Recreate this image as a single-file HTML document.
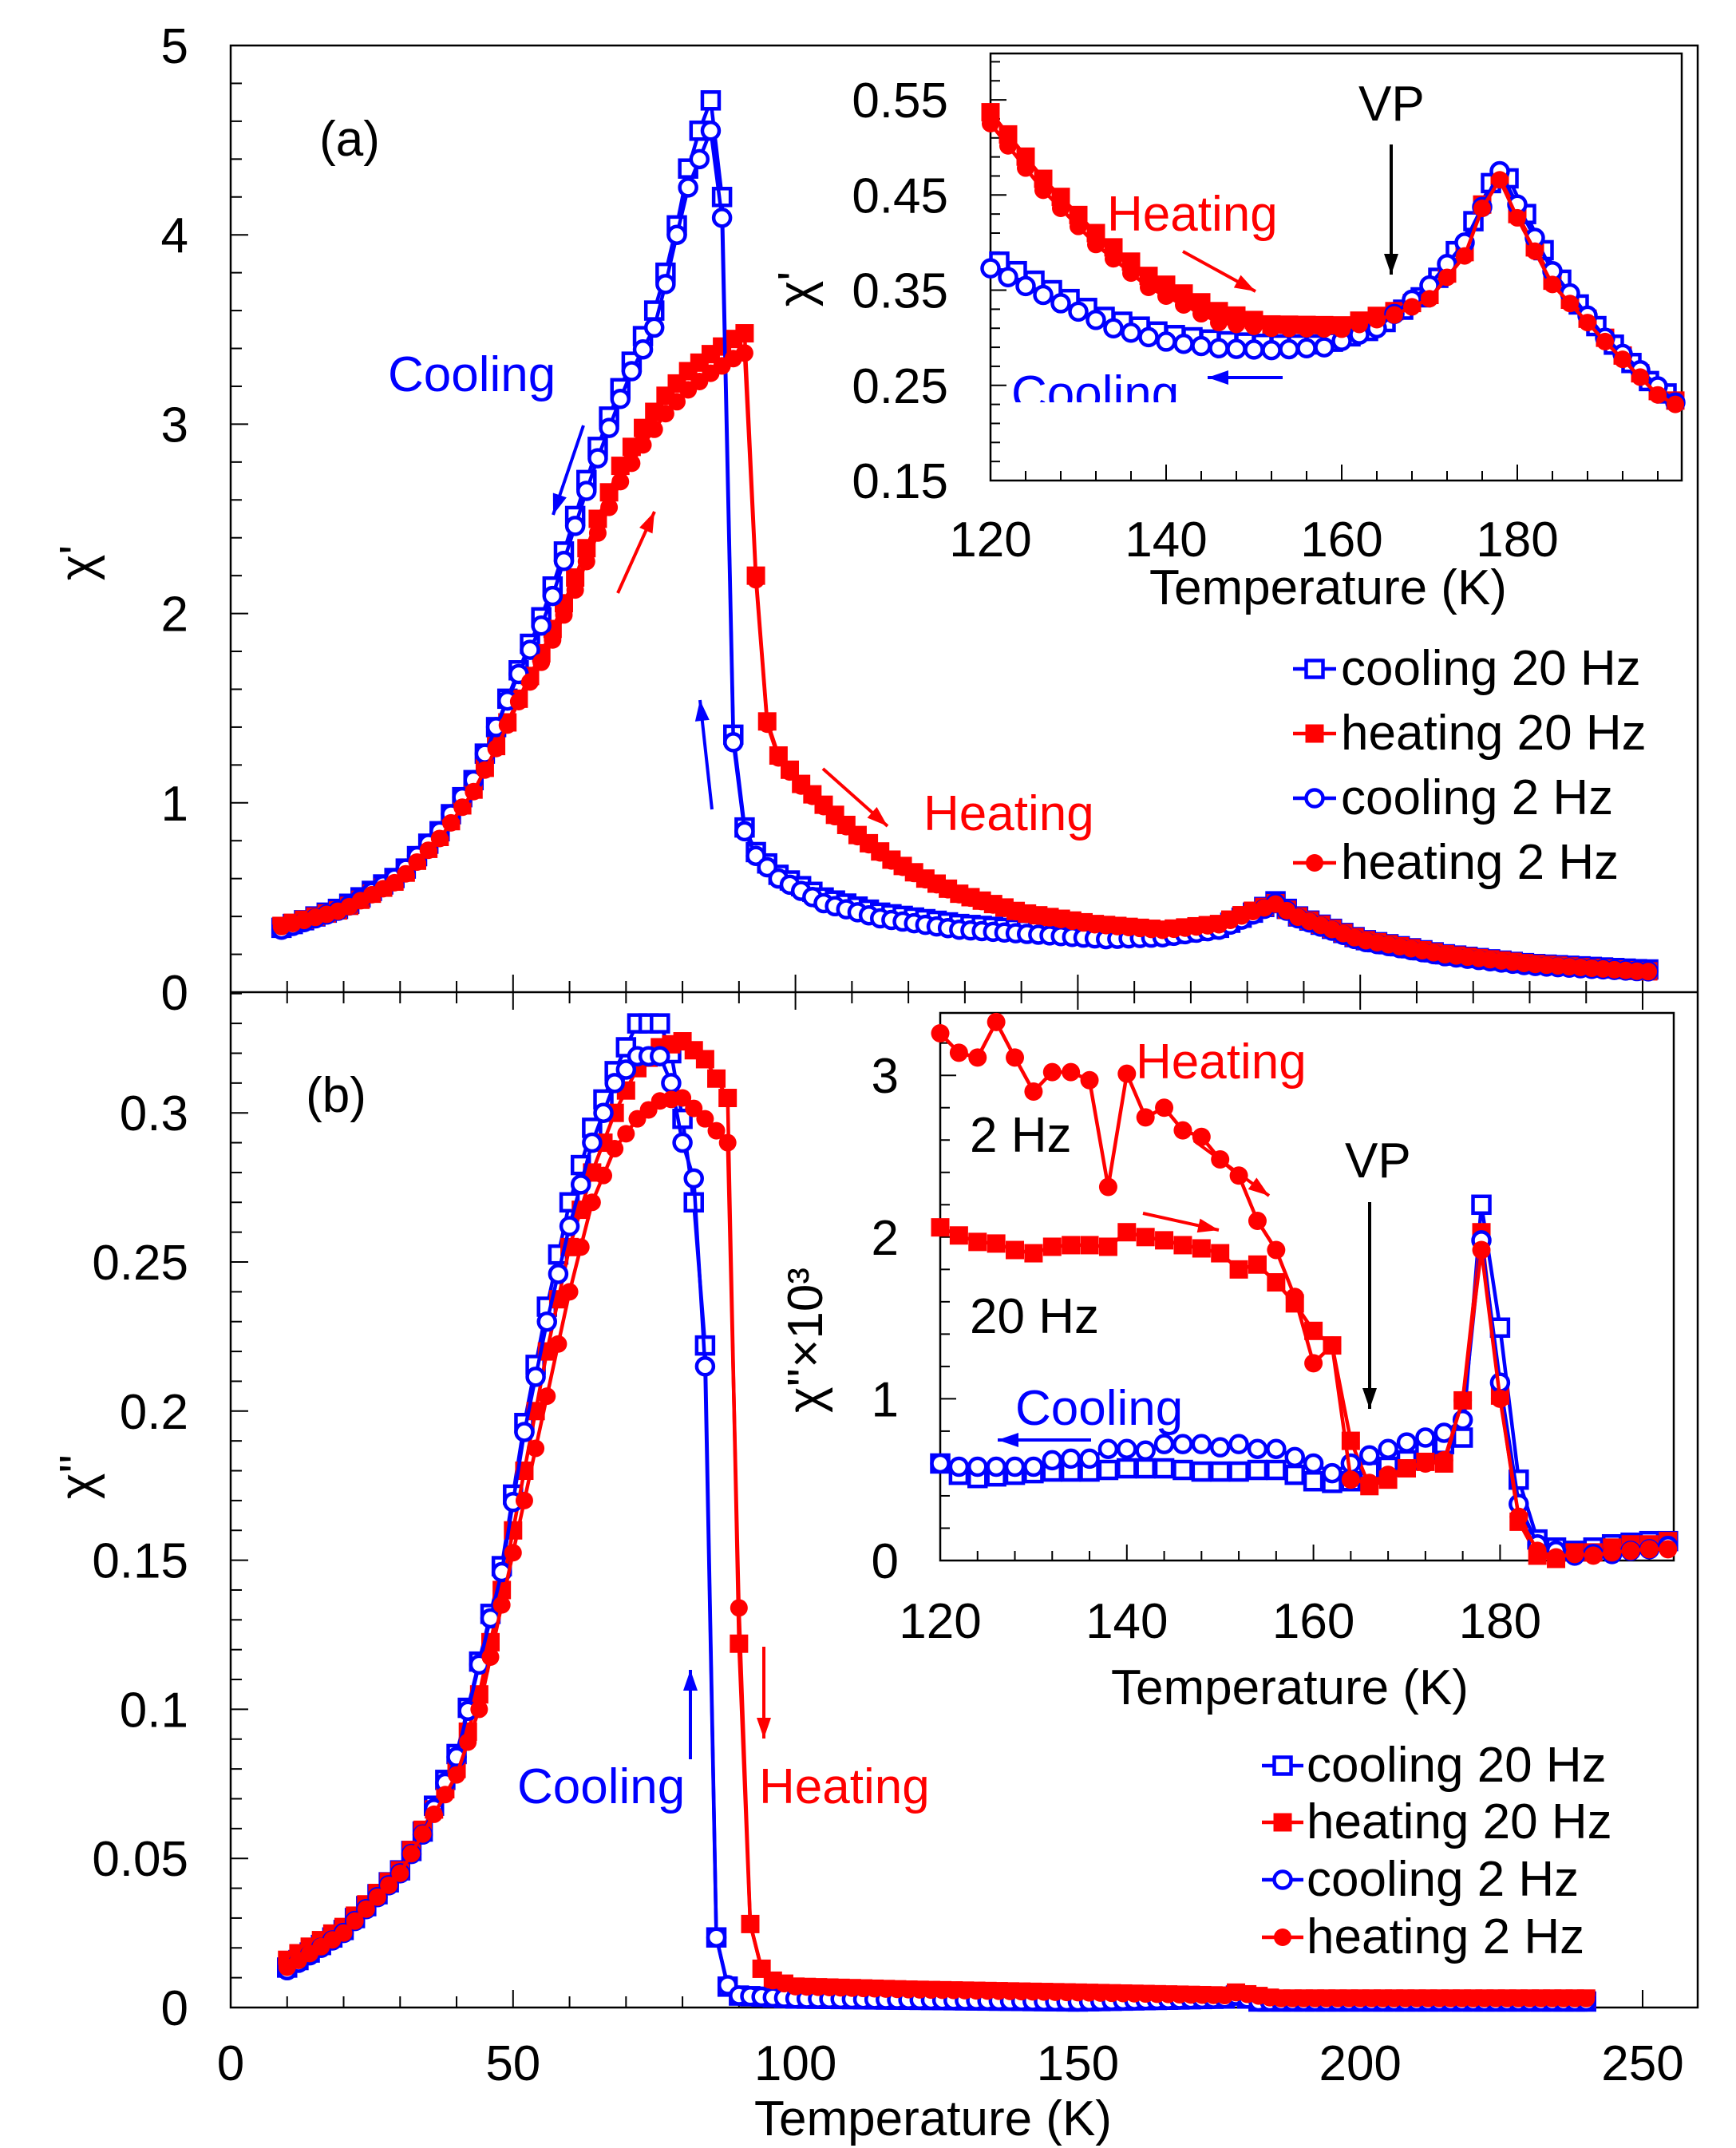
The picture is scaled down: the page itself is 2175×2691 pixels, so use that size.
<!DOCTYPE html>
<html><head><meta charset="utf-8"><style>html,body{margin:0;padding:0;background:#fff}svg{display:block}text{font-family:"Liberation Sans",sans-serif}</style></head>
<body>
<svg id="s" width="2175" height="2691" viewBox="0 0 2175 2691" xmlns="http://www.w3.org/2000/svg">
<rect width="2175" height="2691" fill="#fff"/>
<g id="g"></g>
</svg>
<script>
const NS="http://www.w3.org/2000/svg";const G=document.getElementById('g');
function el(t,a,txt){const e=document.createElementNS(NS,t);for(const k in a)e.setAttribute(k,a[k]);if(txt!==undefined)e.textContent=txt;G.appendChild(e);return e;}
function interp(k,T){if(T<=k[0][0])return k[0][1];for(let i=1;i<k.length;i++){if(T<=k[i][0]){const a=k[i-1],b=k[i];return a[1]+(b[1]-a[1])*(T-a[0])/(b[0]-a[0]);}}return k[k.length-1][1];}
const B="#0000ff",R="#ff0000";
function series(pts,col,mk,sz,sw){let d="";pts.forEach((p,i)=>{d+=(i?"L":"M")+p[0].toFixed(1)+" "+p[1].toFixed(1);});
 el('path',{d:d,fill:'none',stroke:col,'stroke-width':4.5,'stroke-linejoin':'round'});
 pts.forEach(p=>{const h=sz/2;
  if(mk=='so')el('rect',{x:p[0]-h+2,y:p[1]-h+2,width:sz-4,height:sz-4,fill:'#fff',stroke:col,'stroke-width':sw});
  else if(mk=='sf')el('rect',{x:p[0]-h,y:p[1]-h,width:sz,height:sz,fill:col});
  else if(mk=='co')el('circle',{cx:p[0],cy:p[1],r:h-2,fill:'#fff',stroke:col,'stroke-width':sw});
  else el('circle',{cx:p[0],cy:p[1],r:h,fill:col});});}
function txt(x,y,s,o){const a=Object.assign({x:x,y:y,'font-size':62,fill:'#000'},o||{});return el('text',a,s);}
function arrow(x1,y1,x2,y2,col,w){el('line',{x1:x1,y1:y1,x2:x2,y2:y2,stroke:col,'stroke-width':w||4});
 const ang=Math.atan2(y2-y1,x2-x1),L=26,W=9;const bx=x2-L*Math.cos(ang),by=y2-L*Math.sin(ang);
 const px=-Math.sin(ang)*W,py=Math.cos(ang)*W;el('polygon',{points:`${x2},${y2} ${bx+px},${by+py} ${bx-px},${by-py}`,fill:col});}
const MS=25,SW=4.5;
// ===== main axes =====
const X0=289,XK=(2058-289)/250;const mx=T=>X0+T*XK;
const yA=v=>1243-v*237.2, yB=v=>2515-v*3736;
el('rect',{x:289,y:57,width:1838,height:2458,fill:'none',stroke:'#000','stroke-width':2.5});
el('line',{x1:289,y1:1243,x2:2127,y2:1243,stroke:'#000','stroke-width':2.5});
for(let T=0;T<=250;T+=10){const L=(T%50==0)?22:14;
 el('line',{x1:mx(T),y1:1243,x2:mx(T),y2:1243-L,stroke:'#000','stroke-width':2});
 el('line',{x1:mx(T),y1:1243,x2:mx(T),y2:1243+L,stroke:'#000','stroke-width':2});
 el('line',{x1:mx(T),y1:2515,x2:mx(T),y2:2515-L,stroke:'#000','stroke-width':2});}
for(let i=0;i<=25;i++){const v=i*0.2;const L=(i%5==0)?22:14;el('line',{x1:289,y1:yA(v),x2:289+L,y2:yA(v),stroke:'#000','stroke-width':2});}
for(let i=0;i<=34;i++){const v=i*0.01;const L=(i%5==0)?22:14;el('line',{x1:289,y1:yB(v),x2:289+L,y2:yB(v),stroke:'#000','stroke-width':2});}
for(let i=0;i<=5;i++)txt(236,yA(i)+22,String(i),{'text-anchor':'end'});
['0','0.05','0.1','0.15','0.2','0.25','0.3'].forEach((s,i)=>txt(236,yB(i*0.05)+22,s,{'text-anchor':'end'}));
for(let T=0;T<=250;T+=50)txt(mx(T),2606,String(T),{'text-anchor':'middle'});
txt(1169,2675,'Temperature (K)',{'text-anchor':'middle'});
txt(0,0,"χ'",{transform:'translate(118,705) rotate(-90)','text-anchor':'middle'});
txt(0,0,"χ''",{transform:'translate(118,1850) rotate(-90)','text-anchor':'middle'});
txt(438,195,'(a)',{'text-anchor':'middle'});txt(421,1393,'(b)',{'text-anchor':'middle'});

const aBS=[[9,0.34],[20,0.45],[30,0.62],[37,0.85],[43,1.12],[47,1.4],[51,1.7],[56,2.05],[60,2.42],[64,2.8],[68,3.12],[71,3.33],[75,3.6],[77,3.8],[79,4.05],[81,4.35],[83,4.55],[85,4.71],[87,4.2],[89,1.36],[91,0.87],[93,0.74],[97,0.62],[105,0.5],[115,0.42],[129,0.36],[145,0.32],[155,0.3],[165,0.3],[175,0.34],[181,0.42],[185,0.48],[189,0.4],[200,0.28],[215,0.2],[230,0.15],[250,0.12]];
const aBC=[[9,0.33],[20,0.44],[30,0.62],[37,0.85],[43,1.12],[47,1.4],[51,1.68],[56,2.0],[60,2.37],[64,2.74],[68,3.06],[71,3.28],[75,3.51],[77,3.74],[79,4.0],[81,4.25],[83,4.4],[85,4.55],[87,4.09],[89,1.32],[91,0.85],[93,0.72],[97,0.6],[105,0.47],[115,0.39],[129,0.33],[145,0.3],[155,0.28],[165,0.29],[175,0.33],[181,0.41],[185,0.47],[189,0.39],[200,0.27],[215,0.19],[230,0.14],[250,0.11]];
const aRS=[[9,0.35],[20,0.44],[30,0.6],[37,0.82],[43,1.07],[47,1.3],[51,1.55],[56,1.85],[61,2.19],[65,2.5],[69,2.78],[73,2.98],[77,3.15],[81,3.28],[85,3.37],[89,3.45],[91,3.48],[93,2.2],[95,1.43],[97,1.25],[101,1.1],[105,0.99],[111,0.83],[117,0.7],[123,0.6],[129,0.52],[140,0.42],[153,0.36],[165,0.33],[175,0.36],[181,0.43],[185,0.47],[189,0.4],[200,0.28],[215,0.2],[230,0.15],[250,0.11]];
const aRC=aRS.map(p=>[p[0],(p[0]>55&&p[0]<92)?p[1]*0.97:p[1]*0.99]);
function gen(k,t0,t1,st,fx,fy){const o=[];for(let T=t0;T<=t1+1e-6;T+=st)o.push([fx(T),fy(interp(k,T))]);return o;}
series(gen(aBS,9,251,2,mx,yA),B,'so',MS,SW);
series(gen(aRS,9,251,2,mx,yA),R,'sf',MS-2);
series(gen(aBC,9,251,2,mx,yA),B,'co',MS,SW);
series(gen(aRC,9,251,2,mx,yA),R,'cf',MS-3);

const bBS=[[10,0.0134],[20,0.026],[30,0.046],[34,0.059],[40,0.085],[44,0.116],[48,0.148],[52,0.196],[56,0.235],[60,0.27],[64,0.295],[68,0.314],[72,0.33],[76,0.33],[78,0.32],[80,0.298],[82,0.27],[84,0.222],[86,0.0235],[88,0.007],[90,0.004],[100,0.003],[150,0.002],[176,0.003],[178,0.004],[182,0.002],[240,0.002]];
const bBC=[[10,0.0125],[20,0.025],[30,0.045],[34,0.058],[40,0.084],[44,0.115],[48,0.146],[52,0.193],[56,0.23],[60,0.262],[64,0.29],[68,0.31],[72,0.319],[76,0.319],[78,0.31],[80,0.29],[82,0.278],[84,0.215],[86,0.0235],[88,0.0075],[90,0.004],[100,0.003],[150,0.002],[176,0.003],[178,0.004],[182,0.002],[240,0.002]];
const bRS=[[10,0.016],[20,0.027],[30,0.046],[40,0.08],[44,0.105],[48,0.14],[52,0.18],[56,0.22],[60,0.255],[64,0.28],[68,0.3],[72,0.315],[76,0.322],[80,0.324],[84,0.318],[88,0.305],[90,0.122],[92,0.028],[94,0.013],[96,0.009],[100,0.007],[120,0.006],[150,0.005],[176,0.004],[178,0.005],[185,0.003],[240,0.003]];
const bRC=[[10,0.0135],[20,0.025],[30,0.045],[40,0.078],[44,0.1],[48,0.135],[52,0.17],[56,0.205],[60,0.24],[64,0.27],[68,0.288],[72,0.298],[76,0.304],[80,0.305],[84,0.298],[88,0.29],[90,0.134],[92,0.028],[94,0.013],[96,0.009],[100,0.007],[120,0.006],[150,0.005],[176,0.004],[178,0.005],[185,0.003],[240,0.003]];
series(gen(bBS,10,240,2,mx,yB),B,'so',MS,SW);
series(gen(bRS,10,240,2,mx,yB),R,'sf',MS-2);
series(gen(bBC,10,240,2,mx,yB),B,'co',MS,SW);
series(gen(bRC,10,240,2,mx,yB),R,'cf',MS-3);

txt(486,490,'Cooling',{fill:B});
arrow(731,533,693,645,B);arrow(774,743,820,641,R);arrow(892,1014,877,877,B);arrow(1031,963,1112,1035,R);
txt(1157,1040,'Heating',{fill:R});
txt(648,2259,'Cooling',{fill:B});txt(951,2259,'Heating',{fill:R});
arrow(865,2204,865,2092,B);arrow(957,2063,957,2178,R);

function legend(x1,x2,tx,ys){const it=[['cooling 20 Hz',B,'so'],['heating 20 Hz',R,'sf'],['cooling 2 Hz',B,'co'],['heating 2 Hz',R,'cf']];
 it.forEach((q,i)=>{const y=ys[i],cy=y-20;el('line',{x1:x1,y1:cy,x2:x2,y2:cy,stroke:q[1],'stroke-width':4.5});
  const cx=(x1+x2)/2;series([[cx,cy]],q[1],q[2],q[2]=='cf'?MS-3:(q[2]=='sf'?MS-2:MS),SW);txt(tx,y,q[0]);});}
legend(1620,1674,1680,[858,939,1020,1101]);
legend(1581,1633,1637,[2232,2303,2375,2447]);

{const L=1241,Rr=2107,T0=67,Bm=602;const ix=T=>L+(T-120)*11.0,iy=v=>Bm-(v-0.15)*1192.3;
 el('rect',{x:L,y:T0,width:Rr-L,height:Bm-T0,fill:'#fff',stroke:'#000','stroke-width':2.5});
 for(let T=120;T<=198;T+=4){const l=(T%20==0)?20:12;el('line',{x1:ix(T),y1:Bm,x2:ix(T),y2:Bm-l,stroke:'#000','stroke-width':2});}
 for(let i=0;i<=22;i++){const v=0.15+i*0.02;const l=(i%5==0)?20:12;el('line',{x1:L,y1:iy(v),x2:L+l,y2:iy(v),stroke:'#000','stroke-width':2});}
 ['0.15','0.25','0.35','0.45','0.55'].forEach((s,i)=>txt(1188,iy(0.15+i*0.1)+22,s,{'text-anchor':'end'}));
 [120,140,160,180].forEach(T=>txt(ix(T),697,String(T),{'text-anchor':'middle'}));
 txt(1664,757,'Temperature (K)',{'text-anchor':'middle'});
 txt(0,0,"χ'",{transform:'translate(1018,362) rotate(-90)','text-anchor':'middle'});
 const iRS=[[120,0.537],[126,0.467],[132,0.41],[138,0.365],[146,0.328],[152,0.314],[160,0.313],[166,0.328],[170,0.345],[174,0.39],[176,0.44],[178,0.47],[180,0.43],[184,0.36],[190,0.3],[196,0.244],[198,0.234]];
 const iRC=iRS.map(p=>[p[0],p[0]<150?p[1]-0.012:p[1]-0.004]);
 const iBS=[[120,0.385],[127,0.35],[133,0.322],[140,0.304],[146,0.297],[152,0.293],[158,0.293],[164,0.31],[170,0.349],[174,0.405],[176,0.44],[178,0.485],[180,0.45],[182,0.41],[184,0.374],[188,0.322],[192,0.283],[196,0.245],[198,0.238]];
 const iBC=[[120,0.373],[126,0.345],[134,0.31],[140,0.296],[146,0.289],[152,0.287],[158,0.29],[164,0.31],[170,0.355],[174,0.4],[178,0.475],[180,0.44],[184,0.37],[190,0.3],[198,0.232]];
 series(gen(iBS,121,197,2,ix,iy),B,'so',MS,SW);
 series(gen(iRS,120,198,2,ix,iy),R,'sf',MS-2);
 series(gen(iBC,120,198,2,ix,iy),B,'co',MS,SW);
 series(gen(iRC,120,198,2,ix,iy),R,'cf',MS-3);
 txt(1702,151,'VP');arrow(1743,181,1743,344,'#000');
 txt(1387,289,'Heating',{fill:R});arrow(1482,315,1573,365,R);
 el('clipPath',{id:'cp'});document.getElementById('cp').appendChild(document.createElementNS(NS,'rect'));
 const cr=document.getElementById('cp').firstChild;cr.setAttribute('x',1240);cr.setAttribute('y',400);cr.setAttribute('width',400);cr.setAttribute('height',104);
 txt(1267,514,'Cooling',{fill:B,'clip-path':'url(#cp)'});
 arrow(1607,473,1513,473,B);
}

{const L=1178,Rr=2097,T0=1269,Bm=1955;const ix=T=>L+(T-120)*11.69,iy=v=>Bm-v*202.6;
 el('rect',{x:L,y:T0,width:Rr-L,height:Bm-T0,fill:'#fff',stroke:'#000','stroke-width':2.5});
 for(let T=120;T<=198;T+=4){const l=(T%20==0)?20:12;el('line',{x1:ix(T),y1:Bm,x2:ix(T),y2:Bm-l,stroke:'#000','stroke-width':2});}
 for(let i=0;i<=16;i++){const v=i*0.2;const l=(i%5==0)?20:12;el('line',{x1:L,y1:iy(v),x2:L+l,y2:iy(v),stroke:'#000','stroke-width':2});}
 [0,1,2,3].forEach(v=>txt(1126,iy(v)+22,String(v),{'text-anchor':'end'}));
 [120,140,160,180].forEach(T=>txt(ix(T),2052,String(T),{'text-anchor':'middle'}));
 txt(1616,2135,'Temperature (K)',{'text-anchor':'middle'});
 txt(0,0,"χ''×10³",{transform:'translate(1030,1679) rotate(-90)','text-anchor':'middle'});
 const Ts=[];for(let T=120;T<=198;T+=2)Ts.push(T);
 const rc=[3.26,3.14,3.11,3.33,3.11,2.9,3.02,3.02,2.97,2.31,3.01,2.74,2.8,2.66,2.62,2.48,2.38,2.1,1.92,1.63,1.22,1.33,0.5,0.48,0.53,0.57,0.6,0.62,0.99,1.92,1.0,0.27,0.06,0.02,0.04,0.03,0.05,0.06,0.07,0.07];
 const rs=[2.06,2.01,1.97,1.96,1.92,1.9,1.94,1.95,1.95,1.94,2.03,2.0,1.98,1.95,1.93,1.9,1.8,1.83,1.72,1.59,1.42,1.33,0.74,0.46,0.5,0.57,0.61,0.6,0.99,2.03,1.02,0.24,0.03,0.01,0.05,0.05,0.08,0.1,0.1,0.12];
 const bs=[0.6,0.53,0.51,0.52,0.53,0.54,0.55,0.55,0.55,0.56,0.57,0.57,0.57,0.56,0.55,0.55,0.55,0.56,0.56,0.53,0.49,0.48,0.49,0.55,0.58,0.62,0.67,0.72,0.76,2.2,1.44,0.5,0.13,0.08,0.06,0.08,0.1,0.11,0.12,0.12];
 const bc=[0.6,0.58,0.58,0.58,0.58,0.58,0.62,0.63,0.63,0.69,0.69,0.68,0.72,0.72,0.72,0.7,0.72,0.69,0.69,0.64,0.6,0.54,0.6,0.65,0.69,0.73,0.76,0.79,0.87,1.98,1.1,0.35,0.1,0.06,0.03,0.04,0.04,0.06,0.07,0.09];
 const mk=a=>Ts.map((T,i)=>[ix(T),iy(a[i])]);
 series(mk(bs),B,'so',MS,SW);series(mk(rs),R,'sf',MS-2);series(mk(bc),B,'co',MS,SW);series(mk(rc),R,'cf',MS-2);
 txt(1423,1351,'Heating',{fill:R});txt(1215,1443,'2 Hz');txt(1215,1670,'20 Hz');
 txt(1685,1475,'VP');arrow(1716,1506,1716,1765,'#000');
 arrow(1496,1429,1590,1498,R);arrow(1432,1520,1527,1541,R);
 txt(1272,1785,'Cooling',{fill:B});arrow(1367,1804,1250,1804,B);
}
</script>
</body></html>
